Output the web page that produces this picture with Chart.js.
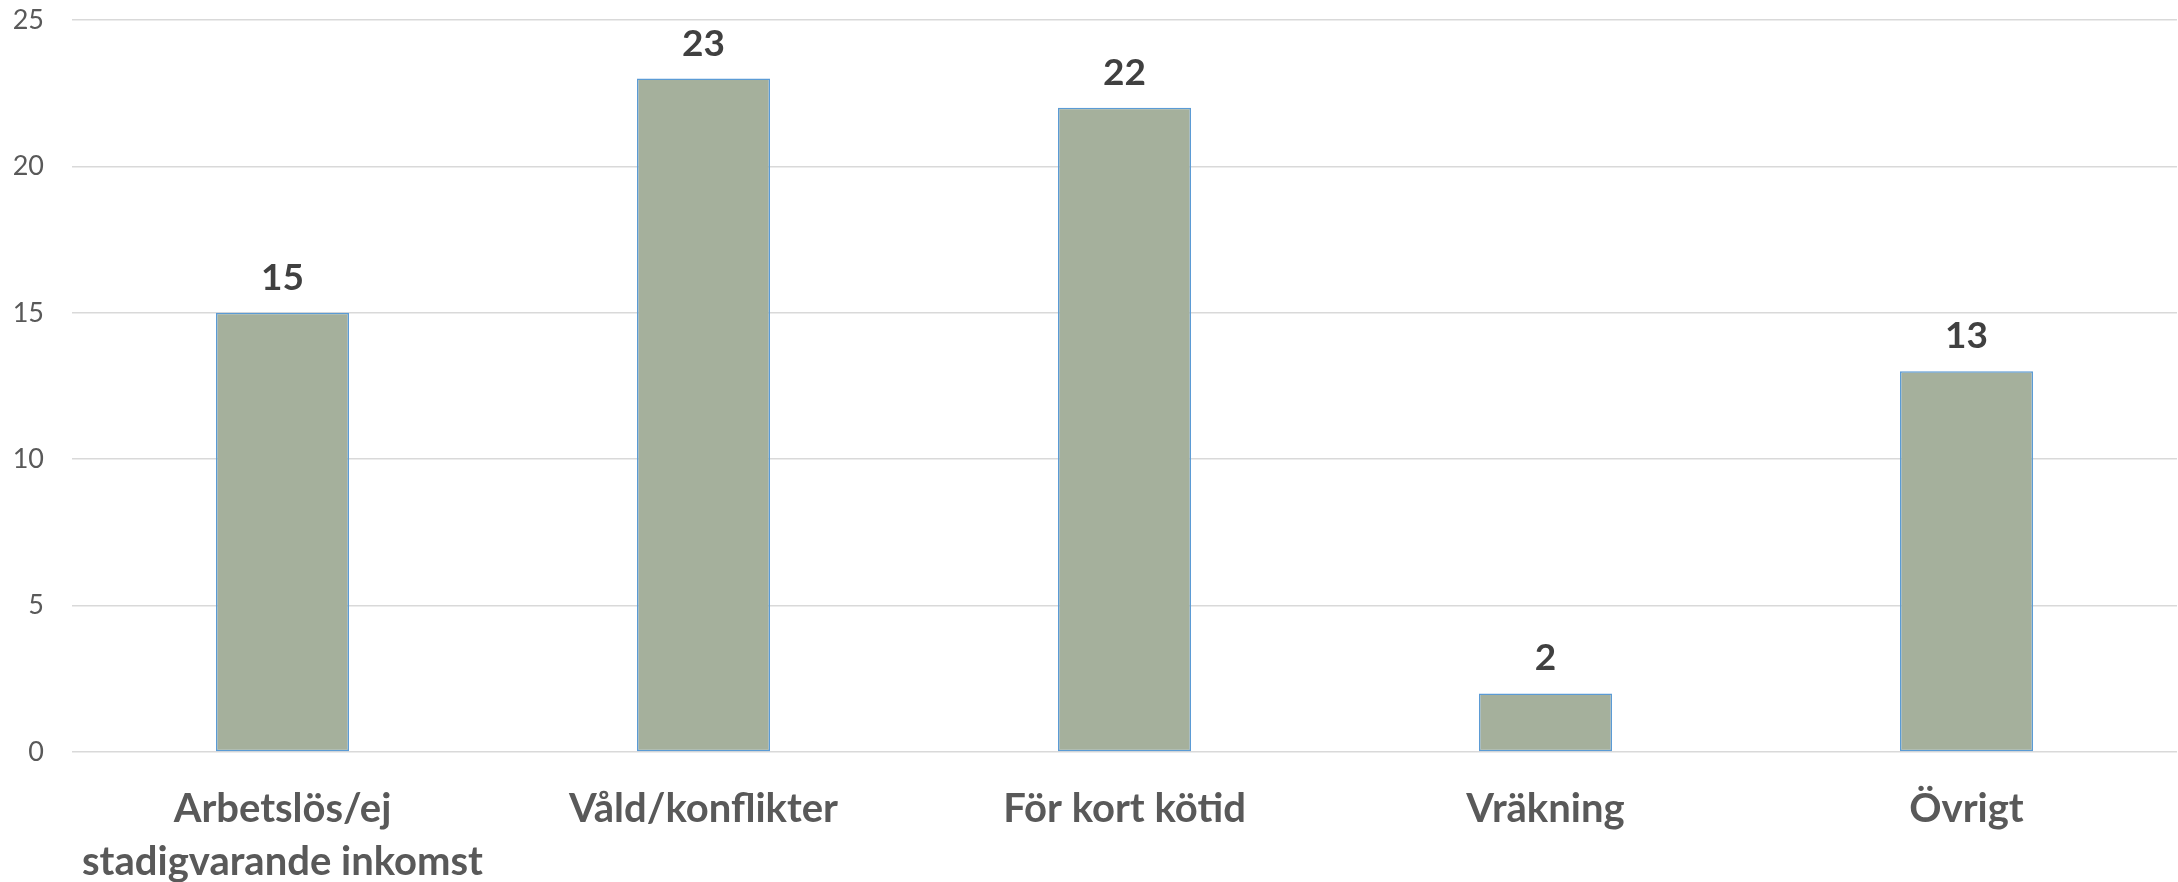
<!DOCTYPE html>
<html>
<head>
<meta charset="utf-8">
<script src="https://cdn.jsdelivr.net/npm/chart.js@4"></script>
<style>
  html, body { margin: 0; padding: 0; background: #fff; }
  #wrap { width: 2178px; height: 882px; position: relative; }
</style>
</head>
<body>
<div id="wrap"><canvas id="barChart"></canvas></div>
<script>
const categories = [
    ['Arbetslös/ej', 'stadigvarande inkomst'],
    'Våld/konflikter',
    'För kort kötid',
    'Vräkning',
    'Övrigt'
];
const counts = [15, 23, 22, 2, 13];
const yTicks = [0, 5, 10, 15, 20, 25];

const fontFamily = 'Lato, "Open Sans", sans-serif';

// draws the number above every bar
const valueLabels = {
    id: 'valueLabels',
    afterDatasetsDraw(chart) {
        const ctx = chart.ctx;
        const meta = chart.getDatasetMeta(0);
        ctx.save();
        ctx.font = `bold 37px ${fontFamily}`;
        ctx.fillStyle = '#404040';
        ctx.textAlign = 'center';
        ctx.textBaseline = 'alphabetic';
        meta.data.forEach((bar, i) => {
            ctx.fillText(String(counts[i]), bar.x, bar.y - 23);
        });
        ctx.restore();
    }
};

const ctx = document.getElementById('barChart').getContext('2d');
const chart = new Chart(ctx, {
    type: 'bar',
    data: {
        labels: categories,
        datasets: [{
            data: counts,
            backgroundColor: '#A5B09C',
            borderColor: '#5B9BD5',
            borderWidth: 1.5,
            borderSkipped: false,
            categoryPercentage: 1,
            barPercentage: 0.316
        }]
    },
    options: {
        responsive: true,
        maintainAspectRatio: false,
        animation: false,
        layout: {
            padding: { top: 20, right: 1, left: 0, bottom: 0 }
        },
        plugins: {
            legend: { display: false },
            tooltip: { enabled: false }
        },
        scales: {
            x: {
                grid: { display: false, drawTicks: false },
                border: { display: false },
                ticks: {
                    color: '#595959',
                    padding: 31,
                    maxRotation: 0,
                    autoSkip: false,
                    font: { family: fontFamily, size: 40, weight: 'bold', lineHeight: 1.32 }
                },
                afterFit(scale) { scale.height = 130; }
            },
            y: {
                min: 0,
                max: 25,
                afterBuildTicks(scale) { scale.ticks = yTicks.map(v => ({ value: v })); },
                grid: { color: '#D9D9D9', lineWidth: 1.5, drawTicks: false },
                border: { display: false },
                ticks: {
                    color: '#595959',
                    padding: 28,
                    font: { family: fontFamily, size: 27 }
                },
                afterFit(scale) {
                    scale.width = 72;
                    scale.paddingTop = 0;
                    scale.paddingBottom = 0;
                }
            }
        }
    },
    plugins: [valueLabels]
});
</script>
</body>
</html>
